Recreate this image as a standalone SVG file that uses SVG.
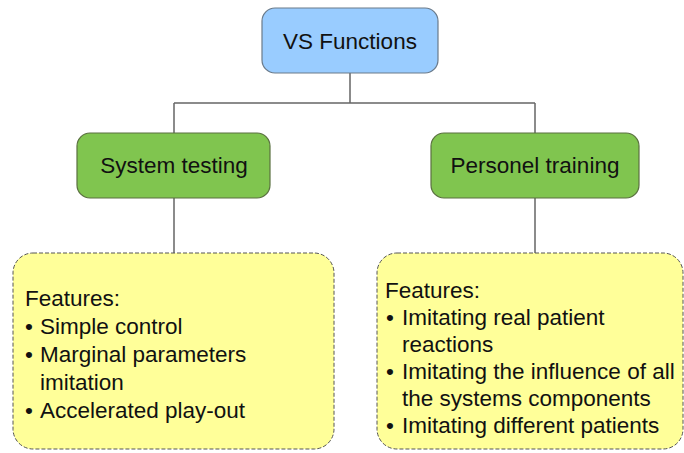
<svg xmlns="http://www.w3.org/2000/svg" width="684" height="453" viewBox="0 0 684 453">
<style>
text{font-family:"Liberation Sans",Arial,sans-serif;font-size:22.5px;fill:#111}
.c{text-anchor:middle}
.blue{fill:#99ccff;stroke:#6a7a8a;stroke-width:1.2}
.green{fill:#80c54f;stroke:#5a7040;stroke-width:1.2}
.yellow{fill:#ffff99;stroke:#555;stroke-width:1;stroke-dasharray:4 2}
.conn{stroke:#666;stroke-width:1.5;fill:none}
</style>
<rect width="684" height="453" fill="#fff"/>
<g id="connectors">
<path class="conn" d="M350 73V103M174 103H535M174 103V133M535 103V133M174 198V253M535 198V253"/>
</g>
<g id="vs-functions">
<rect class="blue" x="262" y="8" width="176" height="65" rx="13"/>
<text class="c" x="350" y="49">VS Functions</text>
</g>
<g id="system-testing">
<rect class="green" x="77" y="133" width="193" height="65" rx="13"/>
<text class="c" x="174" y="173">System testing</text>
</g>
<g id="personel-training">
<rect class="green" x="431" y="133" width="208" height="65" rx="13"/>
<text class="c" x="535" y="173">Personel training</text>
</g>
<g id="features-testing">
<rect class="yellow" x="13" y="253" width="321" height="196" rx="20"/>
<text x="25" y="306">Features:</text>
<text x="25" y="334">•</text><text x="40" y="334">Simple control</text>
<text x="25" y="362">•</text><text x="40" y="362">Marginal parameters</text>
<text x="40" y="390">imitation</text>
<text x="25" y="418">•</text><text x="40" y="418">Accelerated play-out</text>
</g>
<g id="features-training">
<rect class="yellow" x="377" y="253" width="306" height="196" rx="20"/>
<text x="385" y="298">Features:</text>
<text x="386" y="325">•</text><text x="402" y="325">Imitating real patient</text>
<text x="402" y="352">reactions</text>
<text x="386" y="379">•</text><text x="402" y="379">Imitating the influence of all</text>
<text x="402" y="406">the systems components</text>
<text x="386" y="433">•</text><text x="402" y="433">Imitating different patients</text>
</g>
</svg>
